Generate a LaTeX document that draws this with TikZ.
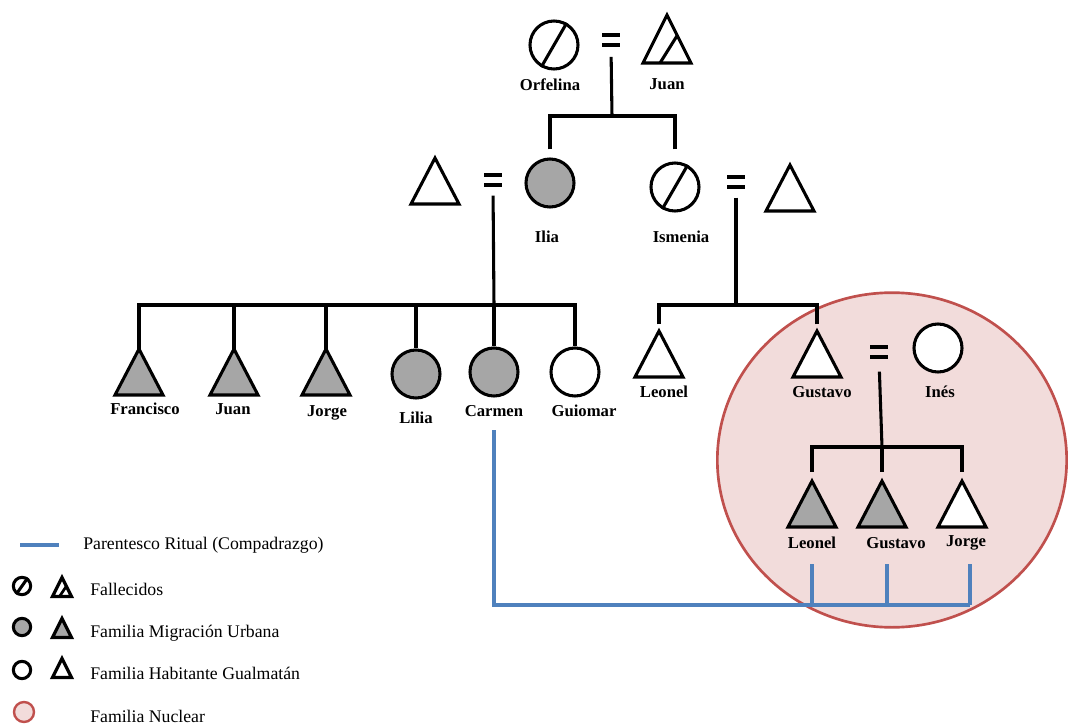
\documentclass[tikz,border=0pt]{standalone}
\usepackage{fontspec}
\setmainfont{Liberation Serif}
\usetikzlibrary{shapes.geometric,calc}
\definecolor{symgray}{HTML}{A6A6A6}
\definecolor{ritblue}{HTML}{4F81BD}
\definecolor{nucfill}{HTML}{F2DCDB}
\definecolor{nucline}{HTML}{C0504D}
\tikzset{
  conn/.style={line width=2.3pt},
  rit/.style={line width=2.3pt, ritblue},
  sym/.style={line width=2.3pt, draw=black},
  circ/.style={circle, sym, minimum size=36pt, inner sep=0pt, fill=#1},
  circ/.default=white,
  scirc/.style={circle, line width=2.3pt, draw=black, minimum size=13pt, inner sep=0pt, fill=#1},
  scirc/.default=white,
  lab/.style={font=\bfseries\fontsize{12.5}{14}\selectfont, inner sep=1pt},
  leg/.style={font=\fontsize{13.3}{15}\selectfont, anchor=west, inner sep=0pt},
  eqs/.style={minimum width=14pt, minimum height=11pt, inner sep=0pt,
    path picture={
      \fill (path picture bounding box.north west) rectangle ($(path picture bounding box.north east)+(0,-3.6pt)$);
      \fill (path picture bounding box.south west) rectangle ($(path picture bounding box.south east)+(0,3.6pt)$);
    }},
  pics/tri/.style={code={
    \draw[sym, fill=#1] (-24,23) -- (0,-23) -- (24,23) -- cycle;
    \coordinate (-top) at (0,-23);}},
  pics/dtri/.style={code={
    \draw[sym, fill=white] (-24,24) -- (0,-24) -- (24,24) -- cycle;
    \draw[sym] (-7,24) -- (10.5,-4);
    \coordinate (-top) at (0,-24);}},
  pics/stri/.style={code={
    \draw[sym, line width=2.4pt, fill=#1] (-9.5,9.5) -- (0,-9.5) -- (9.5,9.5) -- cycle;
    \coordinate (-top) at (0,-9.5);}},
  pics/sdtri/.style={code={
    \draw[sym, line width=2.4pt, fill=white] (-9.5,9.5) -- (0,-9.5) -- (9.5,9.5) -- cycle;
    \draw[sym, line width=2pt] (-2.5,9.5) -- (4.5,-1);
    \coordinate (-top) at (0,-9.5);}},
}
\begin{document}
\begin{tikzpicture}[x=0.75pt, y=-0.75pt]
\useasboundingbox (0,0) rectangle (1068,724);

% nuclear family
\node[ellipse, draw=nucline, fill=nucfill, line width=2pt, minimum width=262pt, minimum height=251pt, inner sep=0pt] (nuc) at (892,460) {};

% generation 1
\node[circ] (orf) at (554,45) {};
\draw[sym] (orf.240) -- (orf.60);
\node[lab] (lorf) at (550,85) {Orfelina};
\node[eqs] (e1) at (611,40) {};
\pic (juan) at (667,39) {dtri};
\node[lab] (ljuan) at (667,84) {Juan};
\coordinate (j1) at (612,116);
\draw[conn, shorten <=7pt] (e1.south) -- (j1);

% generation 2
\pic (hus1) at (435,181) {tri=white};
\node[eqs] (e2) at (493,180) {};
\node[circ=symgray] (ilia) at (550,183) {};
\node[lab] (lilia) at (547,237) {Ilia};
\node[circ] (ism) at (675,187) {};
\draw[sym] (ism.240) -- (ism.60);
\node[lab] (lism) at (681,237) {Ismenia};
\node[eqs] (e3) at (736,182) {};
\pic (hus2) at (790,188) {tri=white};
\draw[conn, shorten <=6pt] (ilia.north) |- (j1);
\draw[conn, shorten <=9pt] (ism.north) |- (j1);
\coordinate (j2) at (494,305);
\coordinate (j3) at (736,305);
\draw[conn, shorten <=6pt] (e2.south) -- (j2);
\draw[conn, shorten <=6pt] (e3.south) -- (j3);

% generation 3, Ilia
\pic (fr) at (139,372) {tri=symgray};
\node[lab] (lfr) at (145,409) {Francisco};
\pic (ju) at (234,372) {tri=symgray};
\node[lab] (lju) at (233,409) {Juan};
\pic (jo) at (326,372) {tri=symgray};
\node[lab] (ljo) at (327,413) {Jorge};
\node[circ=symgray] (li) at (416,374) {};
\node[lab] (lli) at (416,418) {Lilia};
\node[circ=symgray] (ca) at (494,372) {};
\node[lab] (lca) at (494,411) {Carmen};
\node[circ] (gu) at (575,372) {};
\node[lab] (lgu) at (584,411) {Guiomar};
\draw[conn] (fr-top) |- (j2);
\draw[conn] (ju-top) |- (j2);
\draw[conn] (jo-top) |- (j2);
\draw[conn] (li.north) |- (j2);
\draw[conn] (ca.north) |- (j2);
\draw[conn] (gu.north) |- (j2);

% generation 3, Ismenia
\pic (le) at (659,354) {tri=white};
\node[lab] (lle) at (664,392) {Leonel};
\pic (gs) at (817,354) {tri=white};
\node[lab] (lgs) at (822,392) {Gustavo};
\draw[conn, shorten <=5pt] (le-top) |- (j3);
\draw[conn, shorten <=5pt] (gs-top) |- (j3);
\node[eqs] (e4) at (879,352) {};
\node[circ] (ines) at (938,348) {};
\node[lab] (lines) at (940,392) {Inés};
\coordinate (j4) at (882,447);
\draw[conn, shorten <=9pt] (e4.south) -- (j4);

% generation 4
\pic (l2) at (812,504) {tri=symgray};
\node[lab] (ll2) at (812,543) {Leonel};
\pic (g2) at (882,504) {tri=symgray};
\node[lab] (lg2) at (896,543) {Gustavo};
\pic (jr) at (962,504) {tri=white};
\node[lab] (ljr) at (966,543) {Jorge};
\draw[conn, shorten <=7pt] (l2-top) |- (j4);
\draw[conn, shorten <=7pt] (g2-top) -- (j4);
\draw[conn, shorten <=7pt] (jr-top) |- (j4);

% ritual kinship
\coordinate (rl) at (812,564);
\coordinate (rg) at (887,564);
\coordinate (rj) at (970,564);
\coordinate (bj) at (970,605);
\draw[rit, shorten <=9pt] (lca.south) |- (bj);
\draw[rit] (rl) -- (rl |- bj);
\draw[rit] (rg) -- (rg |- bj);
\draw[rit] (rj) -- (bj);

% legend
\coordinate (lg0) at (20,545);
\coordinate (lg1) at (59,545);
\draw[rit] (lg0) -- (lg1);
\node[leg] (t1) at (83,545) {Parentesco Ritual (Compadrazgo)};
\node[scirc] (s1) at (22,586) {};
\draw[line width=2.3pt] (s1.235) -- (s1.55);
\pic (s2) at (62,587) {sdtri};
\node[leg] (t2) at (90,589) {Fallecidos};
\node[scirc=symgray] (s3) at (22,627) {};
\pic (s4) at (62,628) {stri=symgray};
\node[leg] (t3) at (90,633) {Familia Migración Urbana};
\node[scirc] (s5) at (22,670) {};
\pic (s6) at (62,668) {stri=white};
\node[leg] (t4) at (90,673) {Familia Habitante Gualmatán};
\node[circle, draw=nucline, fill=nucfill, line width=1.8pt, minimum size=15pt, inner sep=0pt] (s7) at (24,712) {};
\node[leg] (t5) at (90,716) {Familia Nuclear};
\end{tikzpicture}
\end{document}
